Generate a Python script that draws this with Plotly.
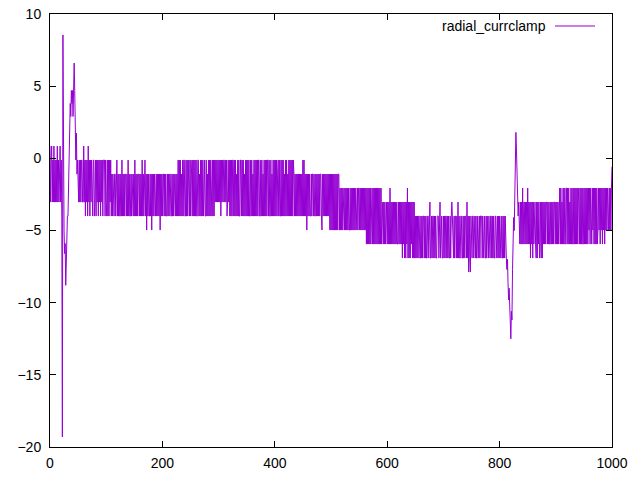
import plotly.graph_objects as go

# Quantised levels of the signal (code digit k -> value)
LEVELS = [0.85, -0.12, -1.09, -2.06, -3.03, -4.0, -4.97, -5.94, -6.91, -7.88]

# Code strings, one digit per sample (x step 1)
seg_start = "0410414041 4140414104 15"                       # x 0-21
spike_one = [-19.3, 8.55, -4.0, -5.0, -6.6, -5.9, -8.8, -6.6, -5.9, -4.0,
             -4.0, -2.06, -0.12, 0.85, 3.8, 2.9, 4.7, 3.8, 4.7, 2.9,
             4.7, 6.6, 4.7, 1.75, -0.12, 1.75, -1.09, -0.12, -2.06, -3.03]  # x 22-51
seg_a = ("1414114404 1514150415 1414511541 5141514151 4151115145 15151415")  # x 52-109
seg_b = ("2525522521 5252552515 2525225251 5255252552 5152525225 2525152521 "
         "5262525525 2625252552 5252526252 5225252552 5252255252 52552525")  # x 110-227
seg_c = ("1515152515 1155151515 5151251515 1515511525 1515151155 1525151515 "
         "5151514141 4141415141 4114141541 4151515115 1515251515 5115151525 "
         "1515151551 5152515151 5151155151 5251515151 1515515251 5151515215 "
         "1551515152 5151525151 5151512525 2525252525 251515")  # x 228-453
seg_d = ("2526252525 5252252552 5252525225 6252525252 5252626262 6262626262 26")  # x 454-515
seg_e = ("3636363363 6363636636 3636363636 6363363636 3636363737 3737373373 "
         "7373737373 737374")  # x 516-591
seg_f = ("4747474474 7473747474 7474747747 4747484748 4847384848 4748484858 5")  # x 592-652
seg_g = ("8585588585 8558585885 5854885855 8585885558 5485588585 8558585885 "
         "8545885855 8584858855 8858585584 8595895885 5855858858 8585558585 "
         "5885858858 8558585885 5855858585 588585858")  # x 653-811
spike_two = [-6.91, -7.7, -7.0, -8.6, -9.8, -9.0, -10.7, -11.4, -12.5, -10.6,
             -11.2, -7.7, -5.4, -4.1, -5.0, -2.5, -1.04, 1.8, 0.57, -1.3,
             -3.03, -4.0, -3.03, -5.94]  # x 812-835
seg_h = ("7474737447 4747374748 4748474478 4847487484 8474747447 4747747474 "
         "7447474747 4")  # x 836-906
seg_i = ("3737473737 7337373747 3737737373 7373473737 3773737373 7363737736 "
         "3737373763 6373637363 7363636636 363")  # x 907-999
end_value = [-0.58]  # x 1000


def decode(codes):
    return [LEVELS[int(c)] for c in "".join(codes.split())]


values = (decode(seg_start) + spike_one + decode(seg_a) + decode(seg_b) +
          decode(seg_c) + decode(seg_d) + decode(seg_e) + decode(seg_f) +
          decode(seg_g) + spike_two + decode(seg_h) + decode(seg_i) + end_value)
xs = list(range(len(values)))

x_ticks = [0, 200, 400, 600, 800, 1000]
y_ticks = [-20, -15, -10, -5, 0, 5, 10]
series_name = "radial_currclamp"
color = "#9400D3"

fig = go.Figure()
fig.add_trace(go.Scatter(x=xs, y=values, mode="lines",
                         line=dict(color=color, width=1),
                         name=series_name, showlegend=False))

font = dict(family="Liberation Sans, Arial, sans-serif", size=14, color="black")
axis_common = dict(showgrid=False, zeroline=False, showline=True,
                   linecolor="black", linewidth=1, mirror="ticks",
                   ticks="inside", ticklen=6, tickcolor="black", tickwidth=1,
                   tickfont=font, automargin=False)

fig.update_layout(
    template="none",
    width=640, height=480,
    margin=dict(l=50, r=28, t=14, b=33, pad=0),
    paper_bgcolor="white", plot_bgcolor="white",
    xaxis=dict(range=[0, 1000], tickvals=x_ticks, ticklabelstandoff=3, **axis_common),
    yaxis=dict(range=[-20, 10], tickvals=y_ticks, ticklabelstandoff=5, **axis_common),
    showlegend=False,
)

# gnuplot-style key: text followed by line sample
fig.add_annotation(x=0.8862, y=0.9723, xref="paper", yref="paper",
                   text=series_name, showarrow=False, xanchor="right",
                   yanchor="middle", font=font)
fig.add_shape(type="line", xref="paper", yref="paper",
              x0=0.8986, x1=0.9698, y0=0.9723, y1=0.9723,
              line=dict(color=color, width=1))

fig.write_html("out.html", config={"displayModeBar": False, "staticPlot": True},
               post_script="document.body.style.margin='0';")
